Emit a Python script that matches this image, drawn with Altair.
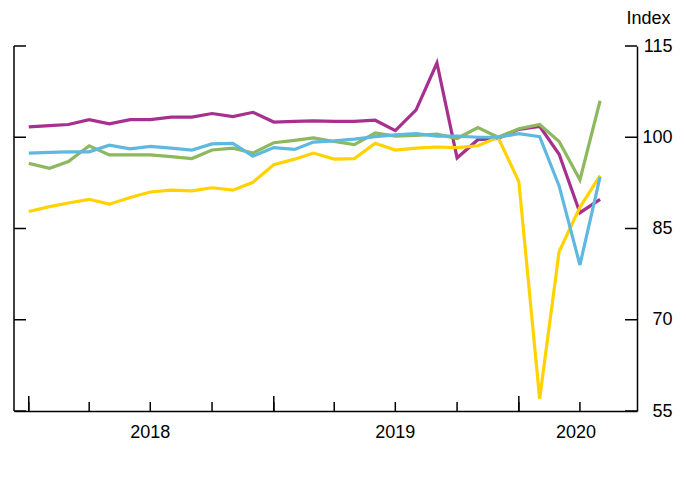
import altair as alt
import pandas as pd

# ---- data -------------------------------------------------------------
months = pd.date_range("2018-01-01", "2020-05-01", freq="MS").strftime("%Y-%m-%d").tolist()

purple = [101.7, 101.9, 102.1, 102.9, 102.2, 102.9, 102.9, 103.3, 103.3, 103.9,
          103.4, 104.1, 102.5, 102.6, 102.7, 102.6, 102.6, 102.8, 101.1, 104.5,
          112.2, 96.6, 99.6, 99.8, 101.3, 101.8, 97.2, 87.6, 89.8]
green = [95.7, 94.9, 96.0, 98.6, 97.1, 97.1, 97.1, 96.8, 96.5, 97.9,
         98.2, 97.4, 99.1, 99.5, 99.9, 99.3, 98.8, 100.7, 100.2, 100.3,
         100.5, 99.8, 101.6, 100.0, 101.4, 102.1, 99.3, 93.0, 106.0]
blue = [97.4, 97.5, 97.6, 97.6, 98.7, 98.1, 98.5, 98.2, 97.9, 98.9,
        99.0, 96.9, 98.3, 98.0, 99.2, 99.4, 99.7, 100.1, 100.4, 100.6,
        100.2, 100.2, 100.0, 100.0, 100.6, 100.1, 92.0, 79.0, 93.5]
yellow = [87.8, 88.6, 89.2, 89.8, 89.0, 90.1, 91.0, 91.3, 91.2, 91.7,
          91.3, 92.6, 95.5, 96.4, 97.4, 96.4, 96.5, 99.0, 97.9, 98.2,
          98.4, 98.3, 98.6, 100.0, 92.7, 57.0, 81.2, 88.5, 93.7]

series = [("Series A", purple, "#A7308F"),
          ("Series D", yellow, "#FFD200"),
          ("Series B", green, "#8CB85E"),
          ("Series C", blue, "#5FB8E0")]

y_ticks = [55, 70, 85, 100, 115]
quarter_ticks = ["2018-01-01", "2018-04-01", "2018-07-01", "2018-10-01",
                 "2019-01-01", "2019-04-01", "2019-07-01", "2019-10-01",
                 "2020-01-01", "2020-04-01"]
major_ticks = ["2018-01-01", "2019-01-01", "2020-01-01"]
year_labels = ["2018", "2019", "2020"]
year_label_pos = ["2018-07-01", "2019-07-01", "2020-03-26"]

# ---- layout -------------------------------------------------------------
W, H = 623, 365
FONT = "Liberation Sans"
FS = 18

xscale = alt.Scale(type="utc",
                   domain=[alt.DateTime(year=2017, month=12, date=10, utc=True),
                           alt.DateTime(year=2020, month=6, date=25, utc=True)])
yscale = alt.Scale(domain=[55, 115], nice=False, zero=False)

xaxis = alt.Axis(title=None, labels=False, ticks=False, grid=False,
                 domain=True, domainColor="black", domainWidth=1.5)
yaxis = alt.Axis(orient="right", values=y_ticks, grid=False, ticks=False, tickSize=0,
                 domain=True, domainColor="black", domainWidth=1.5,
                 labelFont=FONT, labelFontSize=FS, labelColor="black",
                 labelAlign="right", labelBaseline="middle", labelPadding=35,
                 title="Index", titleAngle=0, titleAlign="right", titleBaseline="middle",
                 titleX=33, titleY=-28, titleFont=FONT, titleFontSize=FS,
                 titleFontWeight="normal", titleColor="black")

layers = []
for name, vals, col in series:
    d = pd.DataFrame({"date": months, "value": vals, "series": name})
    layers.append(
        alt.Chart(d).mark_line(strokeWidth=3.2, color=col, clip=True).encode(
            x=alt.X("date:T", scale=xscale, axis=xaxis),
            y=alt.Y("value:Q", scale=yscale, axis=yaxis),
        )
    )

# left axis line
left_line = alt.Chart(pd.DataFrame({"v": [0]})).mark_rule(color="black", strokeWidth=1.5).encode(
    x=alt.value(0), y=alt.value(0), y2=alt.value(H))

ydf = pd.DataFrame({"v": y_ticks})
ytick_left = alt.Chart(ydf).mark_rule(color="black", strokeWidth=1.5).encode(
    y=alt.Y("v:Q", scale=yscale, axis=yaxis), x=alt.value(0), x2=alt.value(12))
ytick_right = alt.Chart(ydf).mark_rule(color="black", strokeWidth=1.5).encode(
    y=alt.Y("v:Q", scale=yscale, axis=yaxis), x=alt.value(W - 12), x2=alt.value(W))

qdf = pd.DataFrame({"date": quarter_ticks})
xtick_minor = alt.Chart(qdf).mark_rule(color="black", strokeWidth=1.5).encode(
    x=alt.X("date:T", scale=xscale, axis=xaxis), y=alt.value(H), y2=alt.value(H - 9))
mdf = pd.DataFrame({"date": major_ticks})
xtick_major = alt.Chart(mdf).mark_rule(color="black", strokeWidth=1.5).encode(
    x=alt.X("date:T", scale=xscale, axis=xaxis), y=alt.value(H), y2=alt.value(H - 15))

ldf = pd.DataFrame({"date": year_label_pos, "label": year_labels})
year_text = alt.Chart(ldf).mark_text(font=FONT, fontSize=FS, color="black",
                                     baseline="middle", align="center").encode(
    x=alt.X("date:T", scale=xscale, axis=xaxis), y=alt.value(H + 22), text="label:N")

chart = alt.layer(left_line, ytick_left, ytick_right, xtick_minor, xtick_major,
                  year_text, *layers).properties(
    width=W, height=H,
    autosize=alt.AutoSizeParams(type="none"),
    padding={"left": 6, "top": 38, "right": 40, "bottom": 45},
    background="white",
).configure_view(stroke=None)

chart.save("out.html", embed_options={"renderer": "svg", "actions": False})
